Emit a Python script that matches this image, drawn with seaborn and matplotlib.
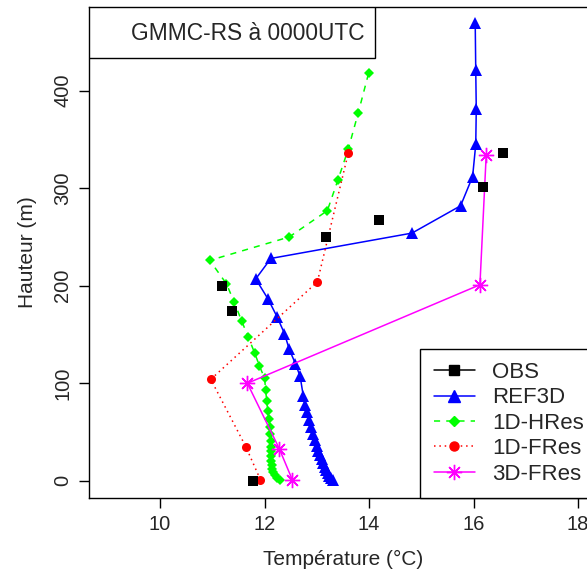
import matplotlib
matplotlib.use("Agg")
import matplotlib.pyplot as plt
from matplotlib.lines import Line2D
from matplotlib.patches import Rectangle
import seaborn as sns

# Observed radiosonde profile (°C, m)
obs_t = [11.78, 11.37, 11.18, 13.17, 14.18, 16.17, 16.57]
obs_z = [0, 174, 200, 250, 267, 301, 336]

# 3D reference run
ref3d_t = [13.30, 13.27, 13.24, 13.21, 13.18, 13.15, 13.12, 13.09, 13.06, 13.03,
           13.00, 12.97, 12.93, 12.89, 12.85, 12.81, 12.77, 12.74, 12.68, 12.59,
           12.47, 12.38, 12.24, 12.07, 11.83, 12.12, 14.82, 15.75, 15.98, 16.04,
           16.05, 16.04, 16.03]
ref3d_z = [1, 3, 5, 8, 11, 14, 18, 22, 26, 31, 36, 42, 48, 55, 62, 70, 78, 87,
           107, 120, 135, 151, 168, 186, 207, 228, 254, 282, 312, 345, 381, 421, 469]

# 1D high-resolution run
hres_t = [12.29, 12.24, 12.20, 12.17, 12.15, 12.14, 12.13, 12.13, 12.13, 12.12,
          12.12, 12.11, 12.10, 12.08, 12.06, 12.04, 12.02, 12.00, 11.90, 11.81,
          11.69, 11.56, 11.42, 11.27, 10.95, 12.47, 13.20, 13.40, 13.60, 13.79,
          13.99]
hres_z = [1, 3, 6, 9, 12, 16, 20, 25, 30, 35, 41, 48, 55, 63, 72, 82, 93, 105,
          118, 131, 147, 164, 183, 202, 226, 250, 277, 308, 340, 377, 418]

# 1D full-resolution run
fres1d_t = [11.92, 11.64, 10.97, 13.01, 13.60]
fres1d_z = [1, 35, 104, 204, 336]

# 3D full-resolution run
fres3d_t = [12.53, 12.28, 11.67, 16.12, 16.24]
fres3d_z = [1, 33, 100, 201, 334]

x_ticks = [10, 12, 14, 16, 18]
y_ticks = [0, 100, 200, 300, 400]

sns.set_theme(style="ticks")
plt.rcParams["font.family"] = ["Liberation Sans", "DejaVu Sans"]

fig = plt.figure(figsize=(5.87, 5.70), dpi=100)
ax = fig.add_axes([89 / 587, 1 - 498 / 570, 508 / 587, 491.5 / 570])

sns.lineplot(x=ref3d_t, y=ref3d_z, sort=False, estimator=None, ax=ax,
             color="#0000FF", lw=1.1, marker="^", markersize=8.5,
             markeredgecolor="#0000FF", markeredgewidth=0)
sns.lineplot(x=hres_t, y=hres_z, sort=False, estimator=None, ax=ax,
             color="#00FF00", lw=1.1, dashes=(4, 4), marker="D", markersize=5.5,
             markeredgecolor="#00FF00", markeredgewidth=0)
sns.lineplot(x=fres1d_t, y=fres1d_z, sort=False, estimator=None, ax=ax,
             color="#FF0000", lw=1.1, dashes=(1, 2.5), marker="o", markersize=6.5,
             markeredgecolor="#FF0000", markeredgewidth=0)
sns.lineplot(x=fres3d_t, y=fres3d_z, sort=False, estimator=None, ax=ax,
             color="#FF00FF", lw=1.1, marker=(8, 2, 0), markersize=11,
             markeredgecolor="#FF00FF", markeredgewidth=1.0)
sns.scatterplot(x=obs_t, y=obs_z, ax=ax, color="black", marker="s", s=55,
                linewidth=0, zorder=5)

ax.set_xlim(8.64, 18.36)
ax.set_ylim(-17.7, 486.4)
ax.set_xticks(x_ticks)
ax.set_yticks(y_ticks)
ax.set_xticklabels([str(v) for v in x_ticks])
ax.set_yticklabels([str(v) for v in y_ticks], rotation=90, va="center")
ax.tick_params(axis="both", length=7, width=1, color="black", labelsize=14.5,
               pad=5, direction="out")
for s in ax.spines.values():
    s.set_visible(True)
    s.set_color("black")
    s.set_linewidth(1)
ax.set_xlabel("Température (°C)", fontsize=15, labelpad=12)
ax.set_ylabel("Hauteur (m)", fontsize=15, labelpad=12)

# Title box at the top left of the panel
ax.add_patch(Rectangle((0, 0.895), 0.5628, 0.105, transform=ax.transAxes,
                       facecolor="white", edgecolor="black", lw=1, zorder=6))
ax.text(0.082, 0.9455, "GMMC-RS à 0000UTC", transform=ax.transAxes,
        fontsize=16.4, ha="left", va="center", zorder=7)

handles = [
    Line2D([], [], color="black", lw=1.1, marker="s", markersize=7),
    Line2D([], [], color="#0000FF", lw=1.1, marker="^", markersize=8.5),
    Line2D([], [], color="#00FF00", lw=1.1, dashes=(4, 4), marker="D", markersize=5.5),
    Line2D([], [], color="#FF0000", lw=1.1, dashes=(1, 2.5), marker="o", markersize=6.5),
    Line2D([], [], color="#FF00FF", lw=1.1, marker=(8, 2, 0), markersize=11,
           markeredgewidth=1.0),
]
labels = ["OBS", "REF3D", "1D-HRes", "1D-FRes", "3D-FRes"]
leg = ax.legend(handles, labels, loc="lower right", bbox_to_anchor=(1, 0),
                fontsize=16, frameon=True, fancybox=False, borderaxespad=0,
                handlelength=1.87, handletextpad=0.75, labelspacing=0.2,
                borderpad=0.6)
leg.get_frame().set_edgecolor("black")
leg.get_frame().set_linewidth(1)
leg.get_frame().set_alpha(1)

fig.savefig("out.png", dpi=100)
